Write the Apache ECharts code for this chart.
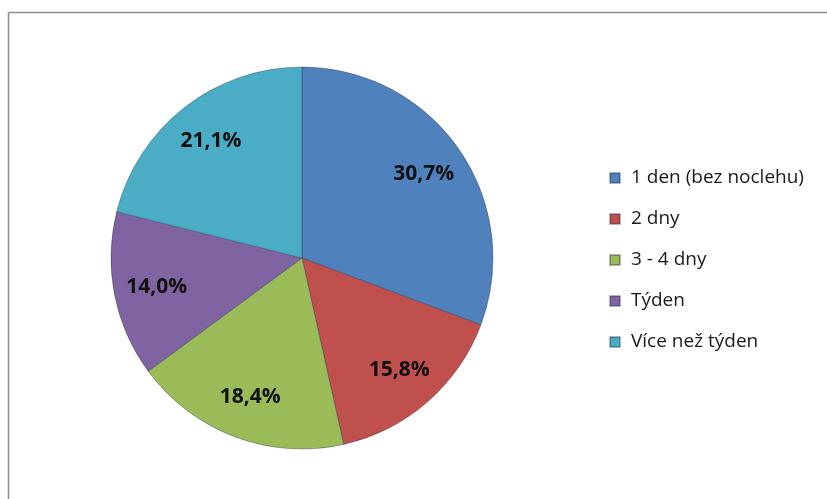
<!DOCTYPE html>
<html>
<head>
<meta charset="utf-8">
<script src="https://cdn.jsdelivr.net/npm/echarts@6/dist/echarts.min.js"></script>
<style>
  html, body { margin: 0; padding: 0; background: #fff; }
  #chart { width: 827px; height: 499px; }
</style>
</head>
<body>
<div id="chart"></div>
<script>
  // data
  const categories = ['1 den (bez noclehu)', '2 dny', '3 - 4 dny', 'Týden', 'Více než týden']
  const shares = [30.7, 15.8, 18.4, 14.0, 21.1]
  const colors = ['#4F81BD', '#C0504D', '#9BBB59', '#8064A2', '#4BACC6']

  const chart = echarts.init(document.getElementById('chart'))

  const pieData = categories.map((name, i) => ({
    name: name,
    value: shares[i],
    itemStyle: { color: colors[i] }
  }))

  const fmt = p => p.value.toFixed(1).replace('.', ',') + '%'

  const option = {
    animation: false,
    color: colors,
    graphic: [
      { type: 'line', shape: { x1: 8.5, y1: 12.5, x2: 827, y2: 12.5 }, style: { stroke: '#8c8c8c', lineWidth: 1.5 } },
      { type: 'line', shape: { x1: 8.5, y1: 12.5, x2: 8.5, y2: 499 }, style: { stroke: '#8c8c8c', lineWidth: 1.5 } }
    ],
    legend: {
      orient: 'vertical',
      left: 609,
      top: 168,
      padding: 0,
      itemWidth: 10,
      itemHeight: 10,
      itemGap: 21,
      icon: 'rect',
      data: categories,
      textStyle: {
        fontFamily: 'Open Sans',
        fontSize: 19,
        lineHeight: 20,
        color: '#1a1a1a',
        padding: [0, 0, 0, 6]
      }
    },
    series: [
      {
        type: 'pie',
        center: [302, 258],
        radius: [0, 191],
        startAngle: 90,
        clockwise: true,
        label: { show: false },
        labelLine: { show: false },
        itemStyle: { borderColor: 'rgba(30,40,60,0.35)', borderWidth: 1 },
        data: pieData
      },
      {
        type: 'pie',
        silent: true,
        center: [302, 258],
        radius: [99, 191],
        startAngle: 90,
        clockwise: true,
        itemStyle: { color: 'rgba(0,0,0,0)' },
        label: {
          show: true,
          position: 'inside',
          formatter: fmt,
          fontFamily: 'Open Sans',
          fontWeight: 'bold',
          fontSize: 21,
          color: '#111'
        },
        labelLine: { show: false },
        data: categories.map((name, i) => ({ name: name, value: shares[i] }))
      }
    ]
  }

  chart.setOption(option)
</script>
</body>
</html>
